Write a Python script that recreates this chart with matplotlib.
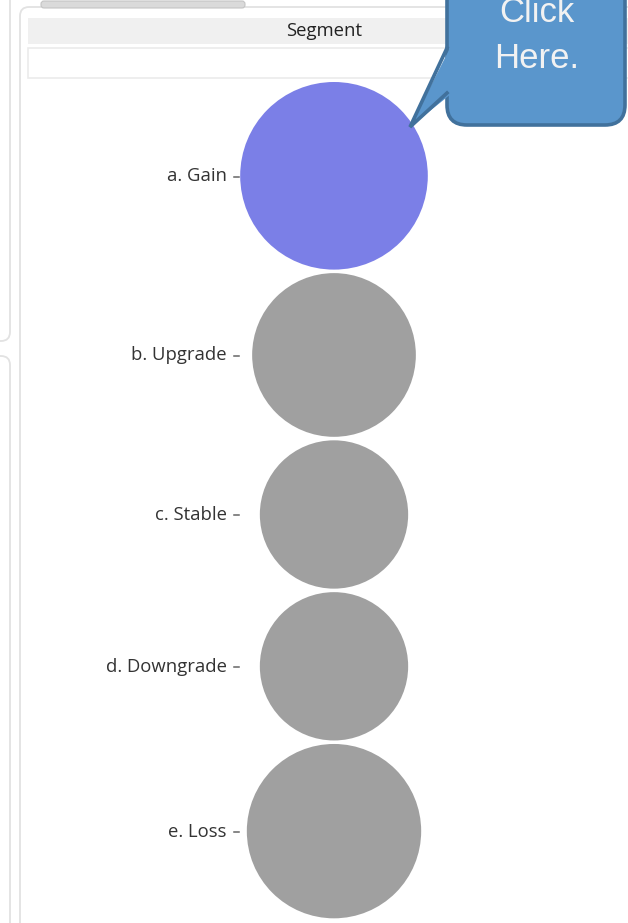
import matplotlib
matplotlib.use("Agg")
import matplotlib.pyplot as plt
from matplotlib.patches import Circle, FancyBboxPatch, Polygon, Rectangle
from matplotlib.lines import Line2D
import numpy as np

# Segment data: circle area encodes the measure
segments = ["a. Gain", "b. Upgrade", "c. Stable", "d. Downgrade", "e. Loss"]
values = [88, 67, 55, 55, 76]
highlight = ["a. Gain"]

COL_HI = "#7b7fe7"
COL_BASE = "#a0a0a0"
W, H = 628, 923

fig = plt.figure(figsize=(W / 100, H / 100), dpi=100)
ax = fig.add_axes([0, 0, 1, 1])
ax.set_xlim(0, W)
ax.set_ylim(H, 0)
ax.axis("off")

# dashboard frames
ax.add_patch(FancyBboxPatch((-40, -40), 50, 381, boxstyle="round,pad=0,rounding_size=9",
                            fc="white", ec="#e2e2e2", lw=1.3))
ax.add_patch(FancyBboxPatch((-40, 356), 50, 620, boxstyle="round,pad=0,rounding_size=9",
                            fc="white", ec="#e2e2e2", lw=1.3))
ax.add_patch(FancyBboxPatch((20, 7), 700, 1000, boxstyle="round,pad=0,rounding_size=9",
                            fc="white", ec="#e2e2e2", lw=1.3))
# scrollbar
ax.add_patch(FancyBboxPatch((41, 1), 204, 7, boxstyle="round,pad=0,rounding_size=3",
                            fc="#dadada", ec="#c4c4c4", lw=0.8))

# column header
ax.add_patch(Rectangle((28, 18), 620, 26, fc="#f0f0f0", ec="none"))
ax.add_patch(Rectangle((28, 48), 620, 30, fc="white", ec="#ebebeb", lw=1.2))
ax.text(324, 31.5, "Segment", ha="center", va="center", fontsize=13.3,
        family="Open Sans", color="#222222")

# packed circles: radius from area, rows stacked with a small gap
scale = 10.0
radii = [scale * np.sqrt(v) for v in values]
gap = 3.5
cx = 334
y = 82.0
centers = []
for i, r in enumerate(radii):
    if i > 0:
        y += gap
    centers.append(y + r)
    y += 2 * r

for seg, r, cy in zip(segments, radii, centers):
    col = COL_HI if seg in highlight else COL_BASE
    ax.add_patch(Circle((cx, cy), r, fc=col, ec="none"))
    ax.text(227, cy + 0.5, seg, ha="right", va="center", fontsize=13.3,
            family="Open Sans", color="#333333")
    ax.add_line(Line2D([234, 239], [cy + 1, cy + 1], color="#666666", lw=1.1))

# callout bubble
BUB = "#5a96cc"
EDGE = "#41719c"
ax.add_patch(FancyBboxPatch((447, -40), 178, 165, boxstyle="round,pad=0,rounding_size=20",
                            fc=BUB, ec=EDGE, lw=2.6, zorder=5))
ax.add_patch(Polygon([(451, 46), (410, 127), (451, 94)], closed=True,
                     fc=BUB, ec="none", zorder=6))
ax.add_line(Line2D([447, 410, 447], [48, 127, 93], color=EDGE, lw=2.6,
                   solid_joinstyle="miter", zorder=7))
ax.text(537, 12, "Click", ha="center", va="center", fontsize=25,
        family="Liberation Sans", color="#f2f2f2", zorder=8)
ax.text(537, 58, "Here.", ha="center", va="center", fontsize=25,
        family="Liberation Sans", color="#f2f2f2", zorder=8)

fig.savefig("out.png", dpi=100)
